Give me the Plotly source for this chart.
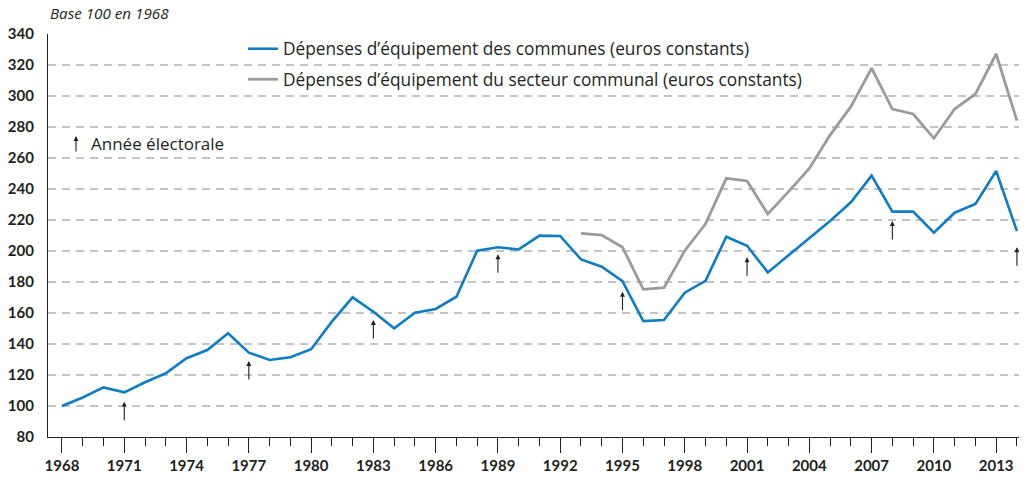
import plotly.graph_objects as go

years = list(range(1968, 2015))
communes = [100, 105.5, 112, 108.8, 115.3, 121.1, 130.8, 136.1, 146.9, 134.4,
            129.7, 131.4, 136.6, 154.4, 170.1, 160.8, 150.1, 160.2, 162.6, 170.5,
            200.2, 202.4, 201.0, 209.9, 209.7, 194.6, 189.9, 180.6, 154.8, 155.5,
            173.1, 180.8, 209.2, 203.4, 186.2, 197.4, 208.2, 219.4, 231.4, 248.6,
            225.4, 225.4, 211.8, 224.7, 230.3, 251.6, 212.9]
secteur_years = list(range(1993, 2015))
secteur = [211.4, 210.3, 202.4, 175.3, 176.3, 200.2, 217.5, 246.9, 245.2, 223.9,
           238.3, 253.3, 274.8, 293.1, 317.9, 291.6, 288.4, 272.7, 291.6, 301.3,
           327.1, 284.1]
election_years = [1971, 1977, 1983, 1989, 1995, 2001, 2008, 2014]
arrow_tips = [102.8, 129.0, 155.5, 197.9, 173.7, 196.0, 219.4, 202.4]

y_ticks = list(range(80, 341, 20))
x_ticks = list(range(1968, 2014, 3))

FONT = "Open Sans"
TICKFONT = "Lato"
DARK = "#231f20"
BLUE = "#0f7cc3"
GREY = "#9b9b9b"

# plot area in pixels
L, R, T, B = 48, 1019, 34, 437
PW, PH = R - L, B - T


def px(x):
    return (x - L) / PW


def py(y):
    return (B - y) / PH


fig = go.Figure()
fig.add_trace(go.Scatter(
    x=years, y=communes, mode="lines",
    name="Dépenses d’équipement des communes (euros constants)",
    line=dict(color=BLUE, width=2.6), legendgroup="a", cliponaxis=False))
fig.add_trace(go.Scatter(
    x=secteur_years, y=secteur, mode="lines",
    name="Dépenses d’équipement du secteur communal (euros constants)",
    line=dict(color=GREY, width=2.8), legendgroup="b", cliponaxis=False))

annotations = []
for yr, tip in zip(election_years, arrow_tips):
    annotations.append(dict(
        x=yr, y=tip, xref="x", yref="y", ax=0, ay=20, text="",
        showarrow=True, arrowhead=2, arrowsize=0.9, arrowwidth=1.1,
        arrowcolor=DARK))

annotations.append(dict(
    x=px(76), y=py(136), xref="paper", yref="paper", ax=0, ay=17, text="",
    showarrow=True, arrowhead=2, arrowsize=0.9, arrowwidth=1.1,
    arrowcolor=DARK))
annotations.append(dict(
    x=px(89), y=py(143), xref="paper", yref="paper", text="Année électorale",
    showarrow=False, xanchor="left", yanchor="middle",
    font=dict(family=FONT, size=17, color=DARK)))
annotations.append(dict(
    x=px(48), y=py(13), xref="paper", yref="paper", text="<i>Base 100 en 1968</i>",
    showarrow=False, xanchor="left", yanchor="middle",
    font=dict(family=FONT, size=15.2, color=DARK)))

fig.update_layout(
    width=1030, height=477,
    margin=dict(l=L, r=1030 - R, t=T, b=477 - B),
    paper_bgcolor="white", plot_bgcolor="white",
    font=dict(family=FONT, color=DARK),
    showlegend=True,
    legend=dict(x=px(243), y=py(31), xanchor="left", yanchor="top",
                bgcolor="rgba(0,0,0,0)", font=dict(family=FONT, size=17.3, color=DARK),
                itemwidth=30, tracegroupgap=5, traceorder="grouped"),
    annotations=annotations,
    xaxis=dict(
        range=[1967.326, 2014.1], showgrid=False, zeroline=False, automargin=False,
        showline=True, linecolor=DARK, linewidth=1.3,
        tickmode="array", tickvals=x_ticks, ticktext=[str(v) for v in x_ticks],
        ticks="outside", ticklen=15, tickwidth=1.3, tickcolor=DARK,
        minor=dict(dtick=1, tick0=1968, ticks="outside", ticklen=8,
                   tickwidth=1.3, tickcolor=DARK, showgrid=False),
        tickfont=dict(family=TICKFONT, size=15, color=DARK, weight="bold"),
    ),
    yaxis=dict(
        range=[80, 340], showgrid=True, gridcolor="#c3c3c3", gridwidth=1.5,
        griddash="8px,6px", zeroline=False, automargin=False,
        showline=True, linecolor=DARK, linewidth=1.3,
        tickmode="array", tickvals=y_ticks, ticktext=[str(v) for v in y_ticks],
        ticks="outside", ticklen=10, tickcolor="rgba(0,0,0,0)",
        tickfont=dict(family=TICKFONT, size=15, color=DARK, weight="bold"),
    ),
)

fig.write_html("out.html",
               config={"displayModeBar": False},
               post_script="document.body.style.margin='0';"
                           "document.body.style.overflow='hidden';")
